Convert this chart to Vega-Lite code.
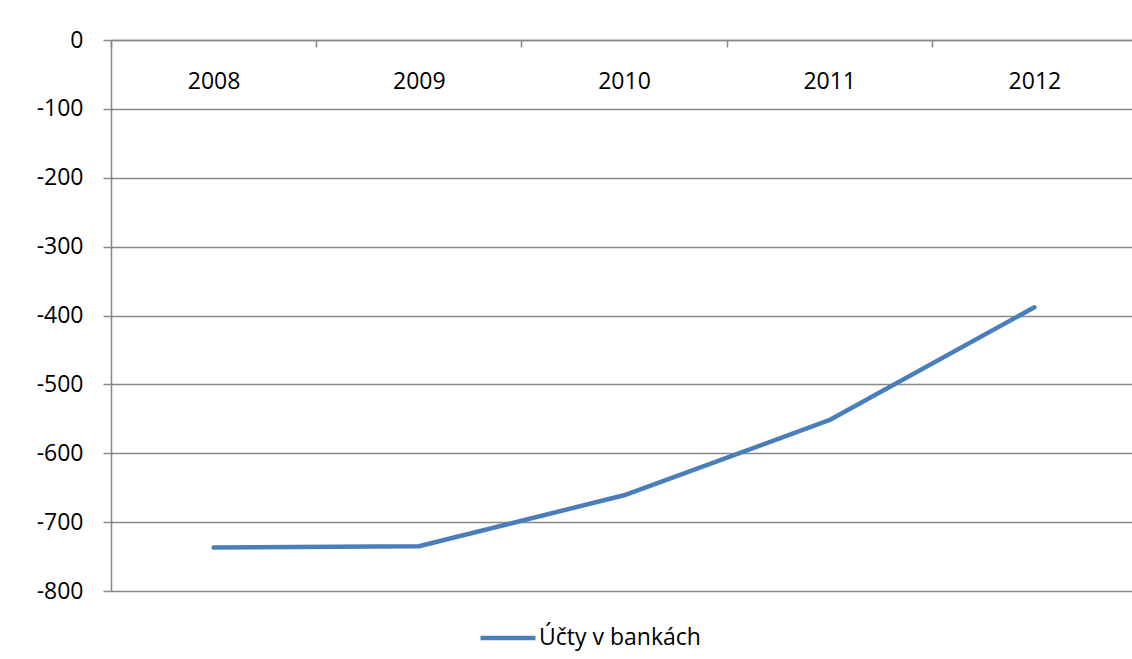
{
  "$schema": "https://vega.github.io/schema/vega-lite/v6.json",
  "width": 1026,
  "height": 551,
  "autosize": {"type": "none"},
  "padding": {"left": 111, "top": 40, "right": 0, "bottom": 68},
  "background": "white",
  "config": {
    "view": {"stroke": null},
    "font": "Open Sans",
    "axis": {
      "labelFont": "Open Sans",
      "labelFontSize": 23,
      "labelColor": "#000000",
      "domainColor": "#888888",
      "domainWidth": 1.5,
      "tickColor": "#888888",
      "tickWidth": 1.5,
      "gridColor": "#888888",
      "gridWidth": 1.4,
      "title": null
    }
  },
  "data": {
    "values": [
      {"rok": "2008", "hodnota": -737, "serie": "Účty v bankách"},
      {"rok": "2009", "hodnota": -735, "serie": "Účty v bankách"},
      {"rok": "2010", "hodnota": -661, "serie": "Účty v bankách"},
      {"rok": "2011", "hodnota": -552, "serie": "Účty v bankách"},
      {"rok": "2012", "hodnota": -388, "serie": "Účty v bankách"}
    ]
  },
  "mark": {"type": "line", "strokeWidth": 4.5, "strokeCap": "round", "strokeJoin": "round"},
  "encoding": {
    "x": {
      "field": "rok",
      "type": "ordinal",
      "scale": {"type": "band", "paddingInner": 0, "paddingOuter": 0},
      "axis": {
        "orient": "bottom",
        "offset": -551,
        "labelAngle": 0,
        "tickBand": "extent",
        "tickSize": 7,
        "labelBaseline": "middle",
        "labelPadding": 34,
        "grid": false
      }
    },
    "y": {
      "field": "hodnota",
      "type": "quantitative",
      "scale": {"domain": [-800, 0], "nice": false},
      "axis": {
        "values": [0, -100, -200, -300, -400, -500, -600, -700, -800],
        "labelExpr": "'' + datum.value",
        "tickSize": 8,
        "labelPadding": 20,
        "grid": true
      }
    },
    "color": {
      "field": "serie",
      "type": "nominal",
      "scale": {"range": ["#4a7ebb"]},
      "legend": {
        "title": null,
        "orient": "none",
        "legendX": 367,
        "legendY": 568,
        "symbolType": "stroke",
        "symbolSize": 3025,
        "symbolStrokeWidth": 4.5,
        "labelFont": "Open Sans",
        "labelFontSize": 23,
        "labelColor": "#000000",
        "labelLimit": 400,
        "labelOffset": 1
      }
    }
  }
}
